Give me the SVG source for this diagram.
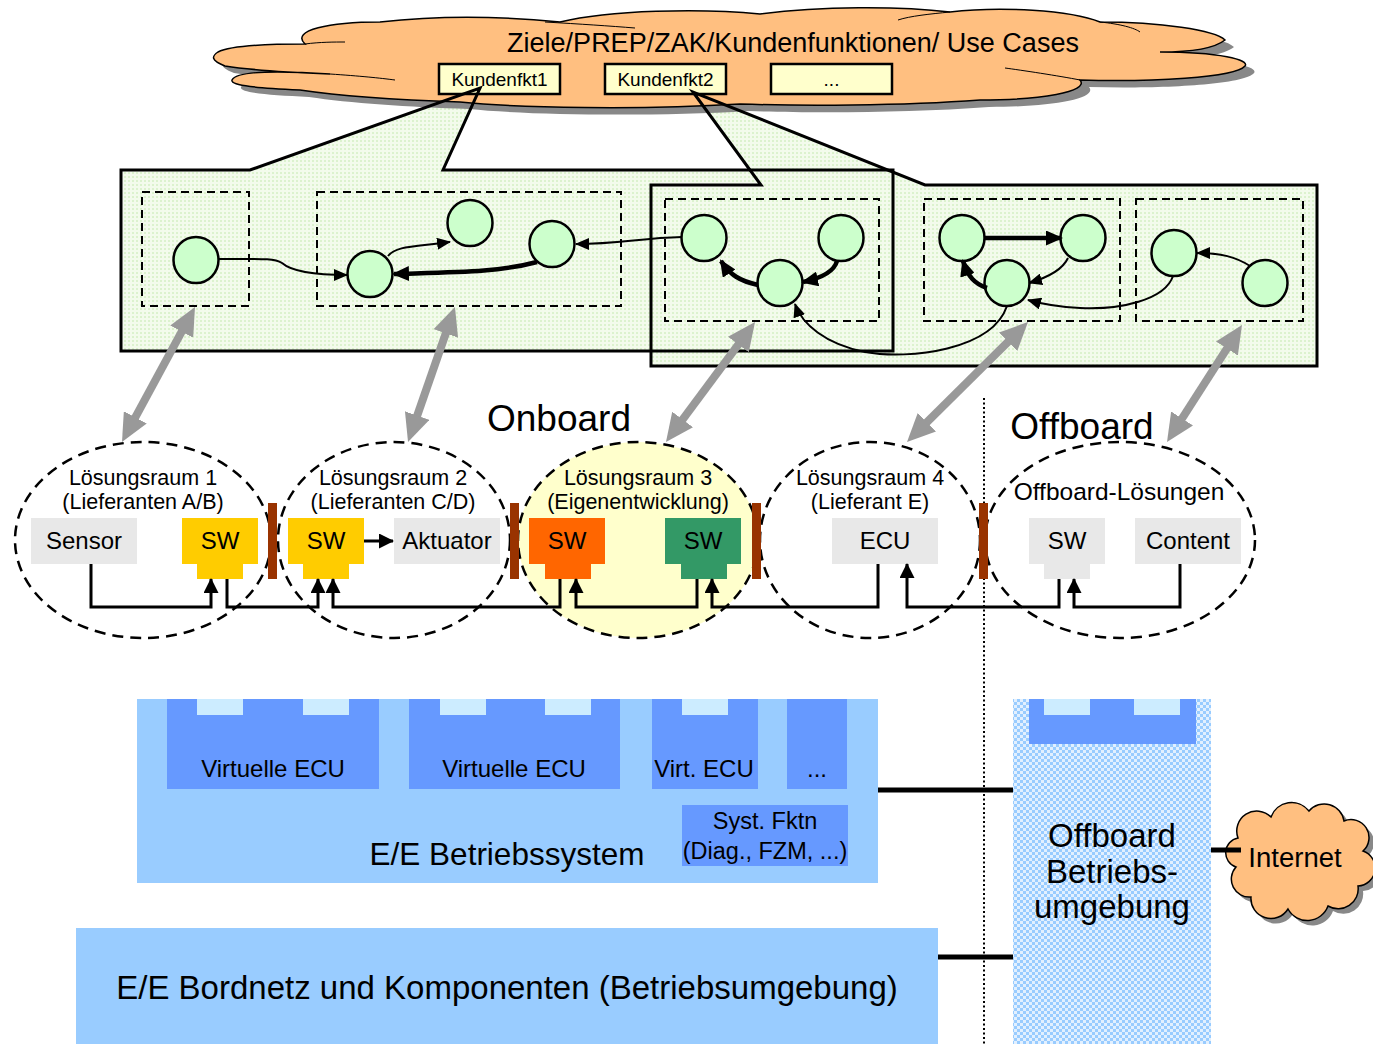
<svg xmlns="http://www.w3.org/2000/svg" width="1373" height="1044" viewBox="0 0 1373 1044">
<defs>
<style>
.t{font-family:"Liberation Sans",Arial,sans-serif;fill:#000;text-anchor:middle}
.nd{fill:#CCFFCC;stroke:#000;stroke-width:2.5}
.db{fill:none;stroke:#000;stroke-width:2;stroke-dasharray:8 5}
.ed{fill:none;stroke:#000;stroke-width:2;marker-end:url(#ah)}
.edt{fill:none;stroke:#000;stroke-width:4.5;marker-end:url(#ahb)}
.ga{stroke:#999;stroke-width:8;marker-start:url(#gah);marker-end:url(#gah)}
.cn{fill:none;stroke:#000;stroke-width:3}
.cna{fill:none;stroke:#000;stroke-width:3;marker-end:url(#ua)}
.el{stroke:#000;stroke-width:2.5;stroke-dasharray:11 7}
.gr{fill:#E8E8E8}
.bar{fill:#993300}
.kf{fill:#FFFFCC;stroke:#000;stroke-width:2.5}
.pan{fill:none;stroke:#000;stroke-width:3;stroke-linejoin:miter}
.vb{fill:#6699FF}
.tab{fill:#CCECFF}
.ln{stroke:#000;stroke-width:5}
</style>
<pattern id="pg" width="4" height="4" patternUnits="userSpaceOnUse"><rect width="4" height="4" fill="#F3FBEC"/><rect width="2" height="2" fill="#DCF2CE"/></pattern>
<pattern id="pb" width="6" height="6" patternUnits="userSpaceOnUse"><rect width="6" height="6" fill="#E2F0FF"/><rect width="3" height="3" fill="#99CCFF"/><rect x="3" y="3" width="3" height="3" fill="#99CCFF"/></pattern>
<marker id="ah" markerUnits="userSpaceOnUse" markerWidth="14" markerHeight="12" refX="13" refY="6" orient="auto"><path d="M0,0 L14,6 L0,12 Z" fill="#000"/></marker>
<marker id="ahb" markerUnits="userSpaceOnUse" markerWidth="17" markerHeight="15" refX="15" refY="7.5" orient="auto"><path d="M0,0 L17,7.5 L0,15 Z" fill="#000"/></marker>
<marker id="gah" markerUnits="userSpaceOnUse" markerWidth="28" markerHeight="26" refX="8" refY="13" orient="auto-start-reverse"><path d="M0,0 L28,13 L0,26 Z" fill="#999"/></marker>
<marker id="ua" markerUnits="userSpaceOnUse" markerWidth="15" markerHeight="15" refX="14" refY="7.5" orient="auto"><path d="M0,0 L15,7.5 L0,15 Z" fill="#000"/></marker>
</defs>
<rect width="1373" height="1044" fill="#fff"/>

<!-- panel fills -->
<g id="panel-fills">
<path d="M651,185 H761 L693,92 L925,185 H1317 V366 H651 Z" fill="url(#pg)"/>
<path d="M121,170 H250 L480,88 L443,170 H893 V351 H121 Z" fill="url(#pg)"/>
</g>

<!-- cloud -->
<g id="cloud-usecases">
<path transform="translate(9,7)" fill="#888" d="M305,44 C290,30 330,22 380,22 C450,14 520,18 560,22 C610,10 700,8 760,14 C820,6 900,6 950,12 C1000,6 1070,10 1100,22 C1160,22 1215,30 1225,40 C1215,48 1190,52 1160,52 C1220,52 1250,60 1245,66 C1235,78 1150,82 1080,80 C1090,92 1040,100 980,100 C900,106 800,106 740,104 C640,110 520,108 460,102 C400,100 340,96 300,90 C260,88 230,86 232,80 C236,72 270,70 330,74 C280,72 250,70 225,66 C210,60 212,56 218,52 C230,46 270,44 305,44 Z"/>
<path fill="#FFBF80" stroke="#000" stroke-width="1.5" d="M305,44 C290,30 330,22 380,22 C450,14 520,18 560,22 C610,10 700,8 760,14 C820,6 900,6 950,12 C1000,6 1070,10 1100,22 C1160,22 1215,30 1225,40 C1215,48 1190,52 1160,52 C1220,52 1250,60 1245,66 C1235,78 1150,82 1080,80 C1090,92 1040,100 980,100 C900,106 800,106 740,104 C640,110 520,108 460,102 C400,100 340,96 300,90 C260,88 230,86 232,80 C236,72 270,70 330,74 C280,72 250,70 225,66 C210,60 212,56 218,52 C230,46 270,44 305,44 Z"/>
<path fill="none" stroke="#000" stroke-width="1" d="M545,22 C580,24 610,26 635,28 M950,12 C930,14 910,16 898,20 M1100,22 C1120,24 1135,28 1140,32 M1080,80 C1060,76 1020,70 1005,68 M305,44 C320,42 335,42 345,42 M330,74 C360,76 380,78 395,80"/>
<text class="t" x="793" y="52" font-size="27">Ziele/PREP/ZAK/Kundenfunktionen/ Use Cases</text>
</g>

<g id="kf1"><rect class="kf" x="439" y="64" width="121" height="30"/><text class="t" x="499.5" y="86" font-size="19">Kundenfkt1</text></g>
<g id="kf2"><rect class="kf" x="605" y="64" width="121" height="30"/><text class="t" x="665.5" y="86" font-size="19">Kundenfkt2</text></g>
<g id="kf3"><rect class="kf" x="771" y="64" width="121" height="30"/><text class="t" x="831.5" y="86" font-size="19">...</text></g>

<!-- panel outlines -->
<g id="panel-outlines">
<path class="pan" d="M121,170 H250 L480,88 L443,170 H893 V351 H121 Z"/>
<path class="pan" d="M651,185 H761 L693,92 L925,185 H1317 V366 H651 Z"/>
</g>

<!-- dashed groups -->
<g id="groups">
<rect class="db" x="142" y="192" width="107" height="114"/>
<rect class="db" x="317" y="192" width="304" height="114"/>
<rect class="db" x="665" y="199" width="214" height="122"/>
<rect class="db" x="924" y="199" width="196" height="122"/>
<rect class="db" x="1136" y="199" width="167" height="122"/>
</g>

<!-- graph nodes -->
<g id="n1"><ellipse class="nd" cx="196" cy="260" rx="22.5" ry="23"/></g>
<g id="n2"><ellipse class="nd" cx="370" cy="274" rx="22.5" ry="23"/></g>
<g id="n3"><ellipse class="nd" cx="470" cy="223" rx="22.5" ry="23"/></g>
<g id="n4"><ellipse class="nd" cx="552" cy="244" rx="22.5" ry="23"/></g>
<g id="n5"><ellipse class="nd" cx="704" cy="238" rx="22.5" ry="23"/></g>
<g id="n6"><ellipse class="nd" cx="841" cy="238" rx="22.5" ry="23"/></g>
<g id="n7"><ellipse class="nd" cx="780" cy="283" rx="22.5" ry="23"/></g>
<g id="n8"><ellipse class="nd" cx="962" cy="238" rx="22.5" ry="23"/></g>
<g id="n9"><ellipse class="nd" cx="1083" cy="238" rx="22.5" ry="23"/></g>
<g id="n10"><ellipse class="nd" cx="1007" cy="283" rx="22.5" ry="23"/></g>
<g id="n11"><ellipse class="nd" cx="1174" cy="253" rx="22.5" ry="23"/></g>
<g id="n12"><ellipse class="nd" cx="1265" cy="283" rx="22.5" ry="23"/></g>

<!-- labels -->
<text class="t" x="559" y="431" font-size="37">Onboard</text>
<text class="t" x="1082" y="439" font-size="37">Offboard</text>

<line x1="984" y1="398" x2="984" y2="1044" stroke="#000" stroke-width="2" stroke-dasharray="2 2.5"/>

<!-- solution spaces -->
<g id="ls1"><ellipse class="el" cx="143" cy="540" rx="128" ry="98" fill="none"/></g>
<g id="ls2"><ellipse class="el" cx="394" cy="540" rx="116" ry="98" fill="none"/></g>
<g id="ls3"><ellipse class="el" cx="638" cy="540" rx="120" ry="98" fill="#FFFFCC"/></g>
<g id="ls4"><ellipse class="el" cx="870" cy="540" rx="110" ry="98" fill="none"/></g>
<g id="ls5"><ellipse class="el" cx="1120" cy="540" rx="135" ry="98" fill="none"/></g>

<g id="ls-labels" font-size="21.5">
<text class="t" x="143" y="485">Lösungsraum 1</text><text class="t" x="143" y="509">(Lieferanten A/B)</text>
<text class="t" x="393" y="485">Lösungsraum 2</text><text class="t" x="393" y="509">(Lieferanten C/D)</text>
<text class="t" x="638" y="485">Lösungsraum 3</text><text class="t" x="638" y="509">(Eigenentwicklung)</text>
<text class="t" x="870" y="485">Lösungsraum 4</text><text class="t" x="870" y="509">(Lieferant E)</text>
<text class="t" x="1119" y="500" font-size="24.5">Offboard-Lösungen</text>
</g>

<g id="sensor"><rect class="gr" x="31" y="518" width="106" height="46"/><text class="t" x="84" y="549" font-size="24">Sensor</text></g>
<g id="sw1"><rect x="182" y="518" width="76" height="46" fill="#FFCC00"/><rect x="197" y="563" width="46" height="16" fill="#FFCC00"/><text class="t" x="220" y="549" font-size="24">SW</text></g>
<g id="sw2"><rect x="288" y="518" width="76" height="46" fill="#FFCC00"/><rect x="303" y="563" width="46" height="16" fill="#FFCC00"/><text class="t" x="326" y="549" font-size="24">SW</text></g>
<g id="aktuator"><rect class="gr" x="394" y="518" width="106" height="46"/><text class="t" x="447" y="549" font-size="24">Aktuator</text></g>
<g id="sw3"><rect x="529" y="518" width="76" height="46" fill="#FF6600"/><rect x="545" y="563" width="46" height="16" fill="#FF6600"/><text class="t" x="567" y="549" font-size="24">SW</text></g>
<g id="sw4"><rect x="665" y="518" width="76" height="46" fill="#339966"/><rect x="681" y="563" width="46" height="16" fill="#339966"/><text class="t" x="703" y="549" font-size="24">SW</text></g>
<g id="ecu"><rect class="gr" x="832" y="518" width="106" height="46"/><text class="t" x="885" y="549" font-size="24">ECU</text></g>
<g id="sw5"><rect class="gr" x="1029" y="518" width="76" height="46"/><rect class="gr" x="1044" y="563" width="46" height="16"/><text class="t" x="1067" y="549" font-size="24">SW</text></g>
<g id="content"><rect class="gr" x="1135" y="518" width="106" height="46"/><text class="t" x="1188" y="549" font-size="24">Content</text></g>

<g id="bars">
<rect class="bar" x="268" y="503" width="9" height="76"/>
<rect class="bar" x="510" y="503" width="9" height="76"/>
<rect class="bar" x="752" y="503" width="9" height="76"/>
<rect class="bar" x="979" y="503" width="9" height="76"/>
</g>

<!-- platform blocks -->
<g id="ee-os">
<rect x="137" y="699" width="741" height="184" fill="#99CCFF"/>
<rect class="vb" x="167" y="699" width="212" height="90"/><rect class="tab" x="197" y="699" width="46" height="16"/><rect class="tab" x="303" y="699" width="46" height="16"/>
<text class="t" x="273" y="777" font-size="24">Virtuelle ECU</text>
<rect class="vb" x="409" y="699" width="211" height="90"/><rect class="tab" x="440" y="699" width="46" height="16"/><rect class="tab" x="545" y="699" width="46" height="16"/>
<text class="t" x="514" y="777" font-size="24">Virtuelle ECU</text>
<rect class="vb" x="652" y="699" width="106" height="90"/><rect class="tab" x="682" y="699" width="46" height="16"/>
<text class="t" x="704" y="777" font-size="24">Virt. ECU</text>
<rect class="vb" x="787" y="699" width="60" height="90"/>
<text class="t" x="817" y="777" font-size="24">...</text>
<rect class="vb" x="682" y="805" width="166" height="61"/>
<text class="t" x="765" y="829" font-size="23.5">Syst. Fktn</text>
<text class="t" x="765" y="859" font-size="23.5">(Diag., FZM, ...)</text>
<text class="t" x="507" y="865" font-size="31.5">E/E Betriebssystem</text>
</g>

<g id="ee-bordnetz">
<rect x="76" y="928" width="862" height="116" fill="#99CCFF"/>
<text class="t" x="507" y="999" font-size="33">E/E Bordnetz und Komponenten (Betriebsumgebung)</text>
</g>

<g id="offboard-env">
<rect x="1013" y="699" width="198" height="345" fill="url(#pb)"/>
<rect class="vb" x="1029" y="699" width="167" height="45"/><rect class="tab" x="1044" y="699" width="46" height="16"/><rect class="tab" x="1134" y="699" width="46" height="16"/>
<text class="t" x="1112" y="847" font-size="33">Offboard</text>
<text class="t" x="1112" y="883" font-size="33">Betriebs-</text>
<text class="t" x="1112" y="918" font-size="33">umgebung</text>
</g>

<g id="internet">
<path transform="translate(5,5)" fill="#888" d="M1238,838 a20,20 0 0,1 33,-21 a22,22 0 0,1 38,-6 a20,20 0 0,1 35,10 a18,18 0 0,1 19,30 a18,18 0 0,1 -5,35 a20,20 0 0,1 -30,20 a22,22 0 0,1 -40,3 a20,20 0 0,1 -37,-12 a18,18 0 0,1 -15,-30 a15,15 0 0,1 2,-29 z"/>
<path fill="#FFBF80" stroke="#000" stroke-width="1.5" d="M1238,838 a20,20 0 0,1 33,-21 a22,22 0 0,1 38,-6 a20,20 0 0,1 35,10 a18,18 0 0,1 19,30 a18,18 0 0,1 -5,35 a20,20 0 0,1 -30,20 a22,22 0 0,1 -40,3 a20,20 0 0,1 -37,-12 a18,18 0 0,1 -15,-30 a15,15 0 0,1 2,-29 z"/>
<text class="t" x="1295" y="867" font-size="27.5">Internet</text>
</g>

<!-- connectors -->
<g id="connectors">
<path class="ed" d="M219,259 C260,259 274,258 282,263 C290,270 310,275 347,275"/>
<path class="ed" d="M388,256 C396,246 412,247 450,242"/>
<path class="edt" d="M537,262 C500,272 460,272 394,274"/>
<path class="ed" d="M682,237 C640,238 620,244 576,244"/>
<path class="edt" d="M758,285 C740,281 730,275 721,261"/>
<path class="edt" d="M837,261 C834,272 822,278 803,282"/>
<path class="ed" d="M1007,306 C992,350 910,360 865,352 C825,344 802,324 795,304"/>
<path class="edt" d="M985,238 H1061"/>
<path class="ed" d="M1068,258 C1062,271 1046,278 1029,283"/>
<path class="edt" d="M987,288 C975,284 968,277 963,261"/>
<path class="ed" d="M1173,276 C1165,300 1120,310 1080,308 C1060,307 1042,304 1028,300"/>
<path class="ed" d="M1250,266 C1236,257 1221,253 1197,253"/>

<line class="ga" x1="185.5" y1="324.6" x2="131.5" y2="424.4"/>
<line class="ga" x1="448.4" y1="325.9" x2="414.6" y2="423.1"/>
<line class="ga" x1="743.1" y1="338.1" x2="677.9" y2="425.9"/>
<line class="ga" x1="1013.8" y1="336.1" x2="921.2" y2="427.9"/>
<line class="ga" x1="1231.2" y1="341.8" x2="1177.8" y2="425.2"/>

<line x1="364" y1="541" x2="393" y2="541" stroke="#000" stroke-width="3" marker-end="url(#ua)"/>
<path class="cna" d="M91,564 V607 H211 V579"/>
<path class="cna" d="M227,579 V607 H318 V579"/>
<path class="cna" d="M560,579 V607 H333 V579"/>
<path class="cna" d="M697,579 V607 H576 V579"/>
<path class="cna" d="M878,564 V607 H712 V579"/>
<path class="cna" d="M1059,579 V607 H907 V564"/>
<path class="cna" d="M1180,564 V607 H1074 V579"/>

<line class="ln" x1="878" y1="790" x2="1013" y2="790"/>
<line class="ln" x1="938" y1="957" x2="1013" y2="957"/>
<line class="ln" x1="1211" y1="850" x2="1241" y2="850"/>
</g>
</svg>
